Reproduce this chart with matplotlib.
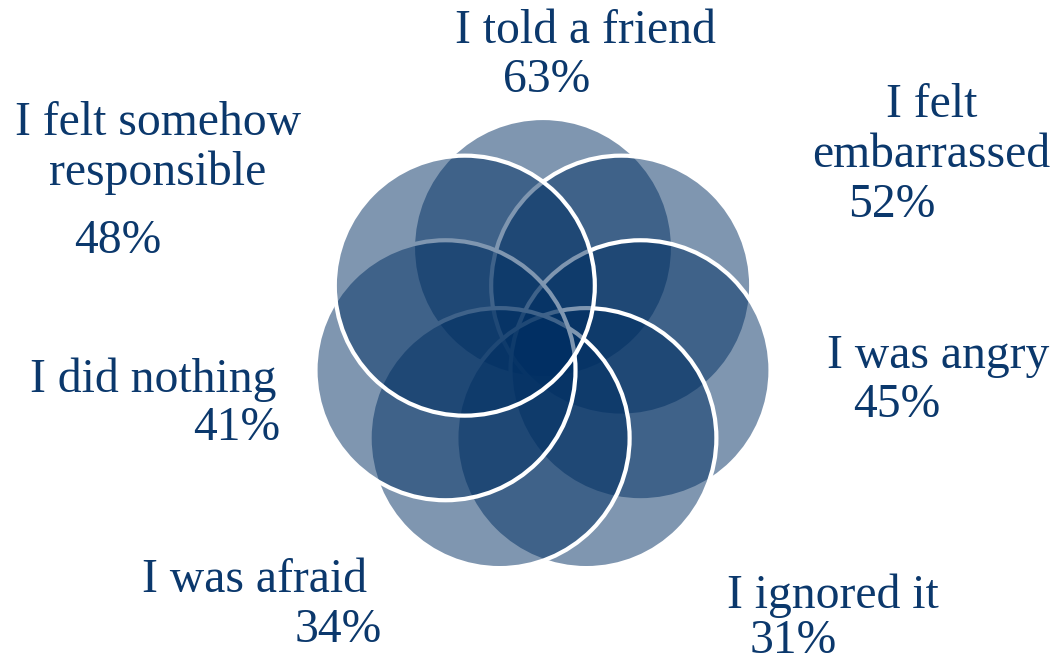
import numpy as np
import matplotlib
matplotlib.use("Agg")
import matplotlib.pyplot as plt
from matplotlib.patches import Circle

# survey answers, clockwise from the top
answers = ["I told a friend", "I felt\nembarrassed", "I was angry", "I ignored it",
           "I was afraid", "I did nothing", "I felt somehow\nresponsible"]
percent = [63, 52, 45, 31, 34, 41, 48]

# left edge / baseline of the first label line, and of the % line (pixels)
label_xy = [(455, 43), (886, 117), (827, 368), (727, 608), (142, 592), (30, 392), (15, 135)]
pct_xy = [(503, 92), (848, 217), (853, 417), (750, 653), (295, 642), (193, 440), (74, 253)]

W, H = 1053, 665
text_col = "#0B386C"
fill_col = "#002F63"
fs = 34.3

fig = plt.figure(figsize=(W / 100, H / 100), dpi=100)
ax = fig.add_axes([0, 0, 1, 1])
ax.set_xlim(0, W)
ax.set_ylim(H, 0)
ax.axis("off")

# ring of overlapping see-through circles, one per answer
cx, cy = 543, 348
dist, rad = 100, 130
n = len(answers)
for k in range(n):
    ang = np.radians(90 - 360 / n * k)
    x = cx + dist * np.cos(ang)
    y = cy - dist * np.sin(ang)
    ax.add_patch(Circle((x, y), rad, facecolor=matplotlib.colors.to_rgba(fill_col, 0.5),
                        edgecolor="white", linewidth=3, zorder=2 + k))

fig.canvas.draw()
for k in range(n):
    lines = answers[k].split("\n")
    x0, y0 = label_xy[k]
    t0 = ax.text(x0, y0, lines[0], ha="left", va="baseline", fontsize=fs,
                 family="Liberation Serif", color=text_col)
    if len(lines) > 1:
        # second line centred under the first
        bb = t0.get_window_extent(renderer=fig.canvas.get_renderer())
        mid = x0 + bb.width / 2
        ax.text(mid, y0 + 50, lines[1], ha="center", va="baseline", fontsize=fs,
                family="Liberation Serif", color=text_col)
    px, py = pct_xy[k]
    ax.text(px, py, f"{percent[k]}%", ha="left", va="baseline", fontsize=fs,
            family="Liberation Serif", color=text_col)

fig.savefig("out.png", dpi=100)
